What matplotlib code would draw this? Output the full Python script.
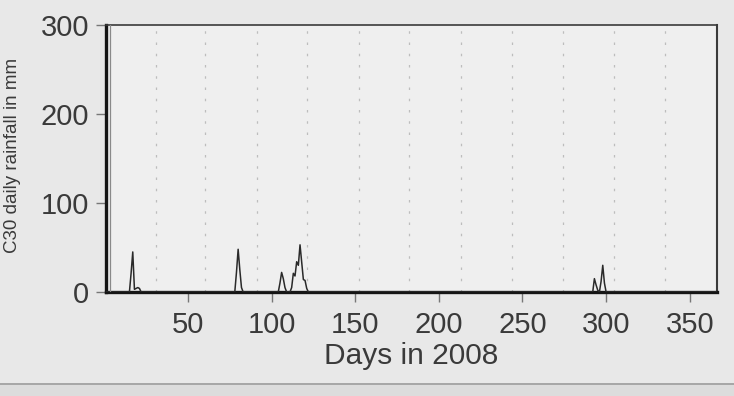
import numpy as np
import matplotlib
matplotlib.use("Agg")
import matplotlib.pyplot as plt
from matplotlib.lines import Line2D

# Daily rainfall at station C30 in 2008 (days with rain only; all other days are dry)
rain_days = [16, 17, 18, 19, 20, 21,
             79, 80, 81, 82,
             105, 106, 107, 108,
             112, 113, 114, 115, 116, 117, 118, 119, 120, 121,
             293, 294, 295, 297, 298, 299]
rain_mm = [21, 45, 3, 4, 5, 4,
           22, 48, 25, 5,
           10, 22, 15, 5,
           5, 21, 18, 34, 30, 53, 34, 14, 13, 4,
           15, 8, 2, 12, 30, 10]

# Month boundaries of the leap year (last day of each month)
month_ends = [31, 60, 91, 121, 152, 182, 213, 244, 274, 305, 335]

x_ticks = [50, 100, 150, 200, 250, 300, 350]
y_ticks = [0, 100, 200, 300]

days = np.arange(1, 367)
rain = np.zeros(days.size)
rain[np.array(rain_days) - 1] = rain_mm

plt.rcParams['font.family'] = ['Liberation Sans', 'DejaVu Sans']
text_col = '#3a3a3a'

fig = plt.figure(figsize=(7.34, 3.96), dpi=100, facecolor='#e8e8e8')
ax = fig.add_axes([106 / 734, (396 - 292) / 396, (716.5 - 106) / 734, (292 - 25) / 396])
ax.set_facecolor('#efefef')

for m in month_ends:
    ax.axvline(m, color='#bdbdbd', lw=0.9, ls=(0, (2, 7)), zorder=1)

ax.plot(days, rain, color='#2a2a2a', lw=1.1, zorder=3)

ax.set_xlim(1, 366)
ax.set_ylim(0, 300)
ax.set_xticks(x_ticks)
ax.set_yticks(y_ticks)
ax.tick_params(axis='both', direction='out', length=7, width=1.0,
               color='#777777', labelsize=21, labelcolor=text_col)
ax.tick_params(axis='x', pad=7)
ax.tick_params(axis='y', pad=5)

ax.spines['left'].set_linewidth(2.4)
ax.spines['bottom'].set_linewidth(2.4)
ax.spines['left'].set_color('#151515')
ax.spines['bottom'].set_color('#151515')
ax.spines['top'].set_linewidth(1.2)
ax.spines['right'].set_linewidth(1.5)
ax.spines['top'].set_color('#3a3a3a')
ax.spines['right'].set_color('#3a3a3a')

# thin inner rule next to the left axis line
ax.add_line(Line2D([0.0065, 0.0065], [0, 1], transform=ax.transAxes,
                   color='#8a8a8a', lw=0.9, zorder=4))

ax.set_xlabel('Days in 2008', fontsize=21.5, color=text_col, labelpad=2)
ax.set_ylabel('C30 daily rainfall in mm', fontsize=13.5, color=text_col)
ax.yaxis.set_label_coords(-0.14, 0.513)

# page edge line near the bottom
fig.add_artist(Line2D([0, 1], [1 - 384 / 396, 1 - 384 / 396], transform=fig.transFigure,
                      color='#9a9a9a', lw=1.2))
fig.patches.append(plt.Rectangle((0, 0), 1, 1 - 385 / 396, transform=fig.transFigure,
                                 facecolor='#dcdcdc', edgecolor='none', zorder=-1))

fig.savefig('out.png', dpi=100, facecolor=fig.get_facecolor())
